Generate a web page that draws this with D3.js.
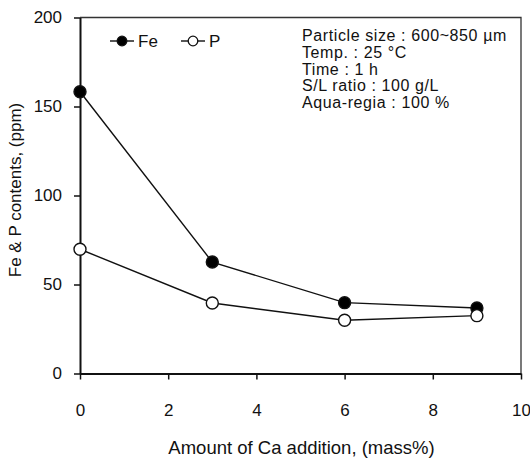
<!DOCTYPE html>
<html>
<head>
<meta charset="utf-8">
<script src="https://cdn.jsdelivr.net/npm/d3@7"></script>
<style>
  html, body { margin: 0; padding: 0; background: #fff; }
  svg { display: block; }
  text { font-family: "Liberation Sans", Arial, sans-serif; fill: #111; }
</style>
</head>
<body>
<svg id="chart" width="530" height="459"></svg>
<script>
// Ca addition (mass%) and measured contents (ppm)
const caAddition = [0, 3, 6, 9];
const feContent = [158.3, 62.6, 39.8, 36.8];
const pContent = [69.8, 39.6, 29.9, 32.5];
const xTicks = [0, 2, 4, 6, 8, 10];
const yTicks = [0, 50, 100, 150, 200];
const conditions = [
  "Particle size : 600~850 \u00b5m",
  "Temp. : 25 \u00b0C",
  "Time : 1 h",
  "S/L ratio : 100 g/L",
  "Aqua-regia : 100 %"
];

const svg = d3.select("#chart");
const m = { left: 80, right: 521, top: 17.5, bottom: 373.5 };

const x = d3.scaleLinear().domain([0, 10]).range([m.left, m.right]);
const y = d3.scaleLinear().domain([0, 200]).range([m.bottom, m.top]);

// top and right frame
svg.append("path")
  .attr("d", `M${m.left},${m.top}H${m.right}V${m.bottom}`)
  .attr("fill", "none").attr("stroke", "#333").attr("stroke-width", 1.3);

// x axis
const xAxis = svg.append("g")
  .attr("transform", `translate(0,${m.bottom})`)
  .call(d3.axisBottom(x).tickValues(xTicks).tickSize(6).tickPadding(24).tickSizeOuter(0));
xAxis.select(".domain").attr("stroke", "#111").attr("stroke-width", 2);
xAxis.selectAll(".tick line").attr("stroke", "#111").attr("stroke-width", 1.5);
xAxis.selectAll("text").attr("font-size", 17).attr("font-family", "Liberation Sans, Arial, sans-serif").attr("fill", "#111");

// y axis
const yAxis = svg.append("g")
  .attr("transform", `translate(${m.left},0)`)
  .call(d3.axisLeft(y).tickValues(yTicks).tickSize(6).tickPadding(12).tickSizeOuter(0));
yAxis.select(".domain").attr("stroke", "#111").attr("stroke-width", 2);
yAxis.selectAll(".tick line").attr("stroke", "#111").attr("stroke-width", 1.5);
yAxis.selectAll("text").attr("font-size", 17).attr("font-family", "Liberation Sans, Arial, sans-serif").attr("fill", "#111");

// axis titles
svg.append("text")
  .attr("x", (m.left + m.right) / 2 + 1).attr("y", 454)
  .attr("text-anchor", "middle").attr("font-size", 18.5)
  .text("Amount of Ca addition, (mass%)");
svg.append("text")
  .attr("transform", `translate(21,190) rotate(-90)`)
  .attr("text-anchor", "middle").attr("font-size", 17)
  .text("Fe & P contents, (ppm)");

// series
const line = d3.line().x(d => x(d[0])).y(d => y(d[1]));
const series = [
  { name: "Fe", values: feContent, fill: "#000" },
  { name: "P", values: pContent, fill: "#fff" }
];
series.forEach(s => {
  const pts = caAddition.map((c, i) => [c, s.values[i]]);
  svg.append("path").datum(pts).attr("d", line)
    .attr("fill", "none").attr("stroke", "#111").attr("stroke-width", 1.4);
  svg.selectAll(null).data(pts).enter().append("circle")
    .attr("cx", d => x(d[0])).attr("cy", d => y(d[1])).attr("r", 6)
    .attr("fill", s.fill).attr("stroke", "#111").attr("stroke-width", 1.4);
});

// legend
const legend = [
  { name: "Fe", fill: "#000", x0: 110 },
  { name: "P", fill: "#fff", x0: 181 }
];
legend.forEach(l => {
  svg.append("line").attr("x1", l.x0).attr("x2", l.x0 + 24).attr("y1", 41).attr("y2", 41)
    .attr("stroke", "#444").attr("stroke-width", 1.8);
  svg.append("circle").attr("cx", l.x0 + 12).attr("cy", 41).attr("r", 4.8)
    .attr("fill", l.fill).attr("stroke", "#111").attr("stroke-width", 1.3);
  svg.append("text").attr("x", l.x0 + 28).attr("y", 47).attr("font-size", 17).text(l.name);
});

// experimental conditions
svg.append("g").selectAll("text").data(conditions).enter().append("text")
  .attr("x", 302).attr("y", (d, i) => 41 + i * 16.8)
  .attr("font-size", 16).attr("letter-spacing", 0.6)
  .text(d => d);
</script>
</body>
</html>
